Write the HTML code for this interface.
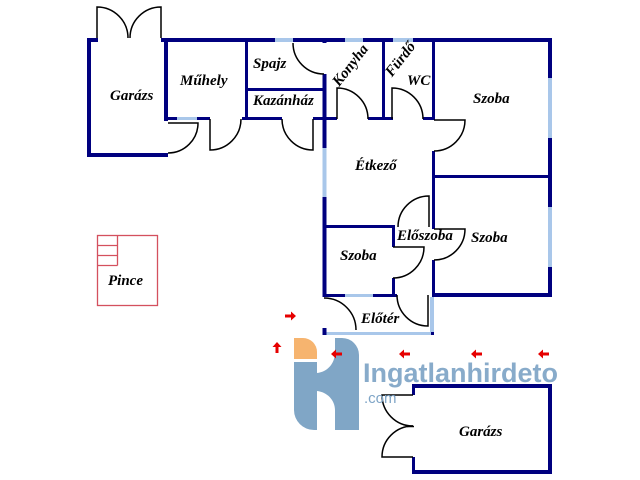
<!DOCTYPE html>
<html><head><meta charset="utf-8"><style>
html,body{margin:0;padding:0;background:#fff;}
svg{display:block;}
.l{font-family:"Liberation Serif",serif;font-weight:bold;font-style:italic;font-size:15px;fill:#000;}
</style></head><body>
<svg width="640" height="480" viewBox="0 0 640 480" xmlns="http://www.w3.org/2000/svg">
<rect width="640" height="480" fill="#fff"/>
<g fill="#00007f">
<rect x="87" y="38" width="11" height="4"/>
<rect x="161" y="38" width="391" height="4"/>
<rect x="87" y="38" width="4" height="119"/>
<rect x="87" y="153" width="81" height="4"/>
<rect x="164" y="38" width="4" height="83"/>
<rect x="164" y="117" width="46" height="3"/>
<rect x="242" y="117" width="40" height="3"/>
<rect x="313" y="117" width="13" height="3"/>
<rect x="245" y="38" width="3" height="82"/>
<rect x="245" y="88" width="80" height="3"/>
<rect x="322.5" y="38" width="4" height="5"/>
<rect x="322.5" y="74" width="4" height="74"/>
<rect x="322.5" y="197" width="4" height="100"/>
<rect x="326" y="117" width="11" height="3"/>
<rect x="368" y="117" width="25" height="3"/>
<rect x="423" y="117" width="12" height="3"/>
<rect x="382" y="38" width="3" height="82"/>
<rect x="432" y="38" width="3" height="82"/>
<rect x="432" y="151" width="3" height="78"/>
<rect x="432" y="260" width="3" height="37"/>
<rect x="548" y="38" width="4" height="259"/>
<rect x="432" y="175" width="120" height="3"/>
<rect x="432" y="293" width="120" height="4"/>
<rect x="323" y="225" width="71" height="3"/>
<rect x="392" y="225" width="3" height="22"/>
<rect x="392" y="278" width="3" height="19"/>
<rect x="323" y="294" width="74" height="3"/>
<rect x="412" y="384" width="140" height="4"/>
<rect x="412" y="470" width="140" height="4"/>
<rect x="548" y="384" width="4" height="90"/>
<rect x="412" y="384" width="3" height="11"/>
<rect x="412" y="457" width="3" height="17"/>
</g>
<g fill="#a9c7ea">
<rect x="275" y="38" width="18" height="4"/>
<rect x="345" y="38" width="18" height="4"/>
<rect x="393" y="38" width="20" height="4"/>
<rect x="177" y="117" width="20" height="3"/>
<rect x="322.5" y="148" width="4" height="49"/>
<rect x="548" y="78" width="4" height="60"/>
<rect x="548" y="207" width="4" height="60"/>
<rect x="345" y="294" width="28" height="3"/>
<rect x="323" y="332" width="111" height="3"/>
<rect x="430" y="297" width="4" height="38"/>
</g>
<g fill="#00007f">
<rect x="322.5" y="328" width="4" height="7"/>
<rect x="431" y="332" width="3" height="3"/>
</g>
<g fill="none" stroke="#000" stroke-width="1.5">
<path d="M97,38 V7 A31,31 0 0 1 128,38"/>
<path d="M161,38 V7 A31,31 0 0 0 130,38"/>
<path d="M168,123 H198 A30,30 0 0 1 168,153"/>
<path d="M210,119 V150 A31,31 0 0 0 241,119"/>
<path d="M313,119 V150 A31,31 0 0 1 282,119"/>
<path d="M293,43 A31,31 0 0 0 324,74"/>
<path d="M337,119 V88 A31,31 0 0 1 368,119"/>
<path d="M392,119 V88 A31,31 0 0 1 423,119"/>
<path d="M434,120 H465 A31,31 0 0 1 434,151"/>
<path d="M434,229 H465 A31,31 0 0 1 434,260"/>
<path d="M429,227 V196 A31,31 0 0 0 398,227"/>
<path d="M393,247 H424 A31,31 0 0 1 393,278"/>
<path d="M428,295 V326 A31,31 0 0 1 397,295"/>
<path d="M324,298 A32,32 0 0 1 356,330"/>
<path d="M413,395 H382 A31,31 0 0 0 413,426"/>
<path d="M413,457 H382 A31,31 0 0 1 413,426"/>
<path d="M407,426.5 H414"/>
</g>
<g fill="none" stroke="#d4505e" stroke-width="1.3">
<rect x="97.5" y="235.5" width="60" height="70"/>
<path d="M97.5,245.5 H117.5 M97.5,255.5 H117.5 M97.5,265.5 H117.5 M117.5,235.5 V265.5"/>
</g>
<text class="l" x="110" y="100">Garázs</text>
<text class="l" x="180" y="85">Műhely</text>
<text class="l" x="253" y="68">Spajz</text>
<text class="l" x="253" y="105">Kazánház</text>
<text class="l" transform="translate(350,65) rotate(-52)" x="0" y="5" text-anchor="middle">Konyha</text>
<text class="l" transform="translate(400,59) rotate(-52)" x="0" y="5" text-anchor="middle">Fürdő</text>
<text class="l" x="407" y="85">WC</text>
<text class="l" x="473" y="103">Szoba</text>
<text class="l" x="355" y="170">Étkező</text>
<text class="l" x="471" y="242">Szoba</text>
<text class="l" x="397" y="240">Előszoba</text>
<text class="l" x="340" y="260">Szoba</text>
<text class="l" x="361" y="323">Előtér</text>
<text class="l" x="108" y="285">Pince</text>
<text class="l" x="459" y="436">Garázs</text>
<path d="M294,338 H303 A14,14 0 0 1 317,352 V359 H294 Z" fill="#f6b46f"/>
<path d="M294,362 H317 V373 C327,372 335,364 335,352 V338 H342 A17,17 0 0 1 359,355 V430 H335 V410 C335,400 327,392 317,391 V430 H314 A20,20 0 0 1 294,410 Z" fill="#80a6c6"/>
<text x="363" y="382" font-family="Liberation Sans, sans-serif" font-weight="bold" font-size="27" fill="#7ea4c6" opacity="0.92" textLength="195" lengthAdjust="spacingAndGlyphs">Ingatlanhirdeto</text>
<text x="364" y="403" font-family="Liberation Sans, sans-serif" font-size="15" fill="#7ea4c6">.com</text>
<g fill="#e60000">
<path transform="translate(331,354)" d="M0,0 L5,-4.5 L5,-1.5 L11,-1.5 L11,1.5 L5,1.5 L5,4.5 Z"/>
<path transform="translate(399,354)" d="M0,0 L5,-4.5 L5,-1.5 L11,-1.5 L11,1.5 L5,1.5 L5,4.5 Z"/>
<path transform="translate(471,354)" d="M0,0 L5,-4.5 L5,-1.5 L11,-1.5 L11,1.5 L5,1.5 L5,4.5 Z"/>
<path transform="translate(538,354)" d="M0,0 L5,-4.5 L5,-1.5 L11,-1.5 L11,1.5 L5,1.5 L5,4.5 Z"/>
<path transform="translate(296,316) scale(-1,1)" d="M0,0 L5,-4.5 L5,-1.5 L11,-1.5 L11,1.5 L5,1.5 L5,4.5 Z"/>
<path transform="translate(277,342) rotate(90)" d="M0,0 L5,-4.5 L5,-1.5 L11,-1.5 L11,1.5 L5,1.5 L5,4.5 Z"/>
</g>
</svg>
</body></html>
